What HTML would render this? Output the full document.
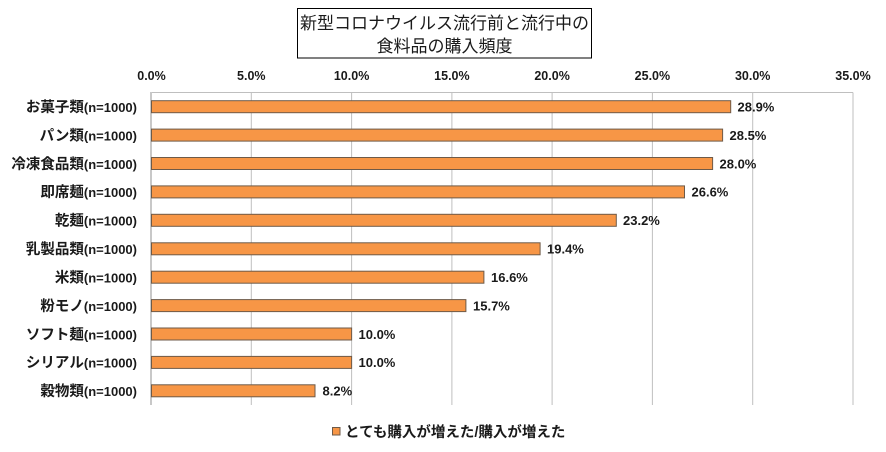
<!DOCTYPE html>
<html><head><meta charset="utf-8">
<style>
html,body{margin:0;padding:0;background:#fff;}
svg{display:block;}
text{font-family:"Liberation Sans","Noto Sans CJK JP",sans-serif;fill:#1a1a1a;}
.b{font-weight:bold;}
</style></head>
<body>
<svg width="886" height="452" viewBox="0 0 886 452" xmlns="http://www.w3.org/2000/svg">
<rect x="0" y="0" width="886" height="452" fill="#fff"/>
<!-- title -->
<rect x="297.5" y="8.5" width="294" height="49.5" fill="#fff" stroke="#000" stroke-width="1"/>
<text x="444.5" y="29" font-size="17" text-anchor="middle">新型コロナウイルス流行前と流行中の</text>
<text x="444.5" y="52" font-size="17" text-anchor="middle">食料品の購入頻度</text>
<!-- tick labels -->
<g class="b" font-size="12.5" font-weight="bold" text-anchor="middle">
<text x="151.5" y="80">0.0%</text>
<text x="251.3" y="80">5.0%</text>
<text x="351.6" y="80">10.0%</text>
<text x="451.9" y="80">15.0%</text>
<text x="552.1" y="80">20.0%</text>
<text x="652.4" y="80">25.0%</text>
<text x="752.7" y="80">30.0%</text>
<text x="853" y="80">35.0%</text>
</g>
<!-- grid -->
<g stroke="#bfbfbf" stroke-width="1">
<line x1="251.3" y1="92.5" x2="251.3" y2="405"/>
<line x1="351.6" y1="92.5" x2="351.6" y2="405"/>
<line x1="451.9" y1="92.5" x2="451.9" y2="405"/>
<line x1="552.1" y1="92.5" x2="552.1" y2="405"/>
<line x1="652.4" y1="92.5" x2="652.4" y2="405"/>
<line x1="752.7" y1="92.5" x2="752.7" y2="405"/>
<line x1="853" y1="92.5" x2="853" y2="405"/>
<line x1="151" y1="92.5" x2="853" y2="92.5"/>
</g>
<line x1="151" y1="92" x2="151" y2="405" stroke="#c8c8c8" stroke-width="2"/>
<!-- bars -->
<g fill="#F79646" stroke="#6e5a48" stroke-width="1">
<rect x="151.5" y="100.7" width="579.2" height="12"/>
<rect x="151.5" y="129.1" width="571.1" height="12"/>
<rect x="151.5" y="157.5" width="561.1" height="12"/>
<rect x="151.5" y="185.9" width="533.0" height="12"/>
<rect x="151.5" y="214.3" width="464.8" height="12"/>
<rect x="151.5" y="242.8" width="388.6" height="12"/>
<rect x="151.5" y="271.2" width="332.4" height="12"/>
<rect x="151.5" y="299.6" width="314.4" height="12"/>
<rect x="151.5" y="328.0" width="200.1" height="12"/>
<rect x="151.5" y="356.4" width="200.1" height="12"/>
<rect x="151.5" y="384.8" width="163.5" height="12"/>
</g>
<!-- value labels -->
<g font-size="13" font-weight="bold">
<text x="737.5" y="111.5">28.9%</text>
<text x="729.5" y="139.9">28.5%</text>
<text x="719.5" y="168.3">28.0%</text>
<text x="691.5" y="196.7">26.6%</text>
<text x="623" y="225.1">23.2%</text>
<text x="547" y="253.6">19.4%</text>
<text x="491" y="282">16.6%</text>
<text x="473" y="310.4">15.7%</text>
<text x="358.5" y="338.8">10.0%</text>
<text x="358.5" y="367.2">10.0%</text>
<text x="322.5" y="395.6">8.2%</text>
</g>
<!-- category labels -->
<g font-weight="bold" text-anchor="end">
<text x="137" y="112"><tspan font-size="14.5">お菓子類</tspan><tspan font-size="13">(n=1000)</tspan></text>
<text x="137" y="140.4"><tspan font-size="14.5">パン類</tspan><tspan font-size="13">(n=1000)</tspan></text>
<text x="137" y="168.8"><tspan font-size="14.5">冷凍食品類</tspan><tspan font-size="13">(n=1000)</tspan></text>
<text x="137" y="197.2"><tspan font-size="14.5">即席麺</tspan><tspan font-size="13">(n=1000)</tspan></text>
<text x="137" y="225.6"><tspan font-size="14.5">乾麺</tspan><tspan font-size="13">(n=1000)</tspan></text>
<text x="137" y="254.1"><tspan font-size="14.5">乳製品類</tspan><tspan font-size="13">(n=1000)</tspan></text>
<text x="137" y="282.5"><tspan font-size="14.5">米類</tspan><tspan font-size="13">(n=1000)</tspan></text>
<text x="137" y="310.9"><tspan font-size="14.5">粉モノ</tspan><tspan font-size="13">(n=1000)</tspan></text>
<text x="137" y="339.3"><tspan font-size="14.5">ソフト麺</tspan><tspan font-size="13">(n=1000)</tspan></text>
<text x="137" y="367.7"><tspan font-size="14.5">シリアル</tspan><tspan font-size="13">(n=1000)</tspan></text>
<text x="137" y="396.1"><tspan font-size="14.5">穀物類</tspan><tspan font-size="13">(n=1000)</tspan></text>
</g>
<!-- legend -->
<rect x="332.5" y="427.5" width="7.5" height="7.5" fill="#F79646" stroke="#6e5a48" stroke-width="1"/>
<text x="345" y="437" font-size="14.5" font-weight="bold">とても購入が増えた/購入が増えた</text>
</svg>
</body></html>
